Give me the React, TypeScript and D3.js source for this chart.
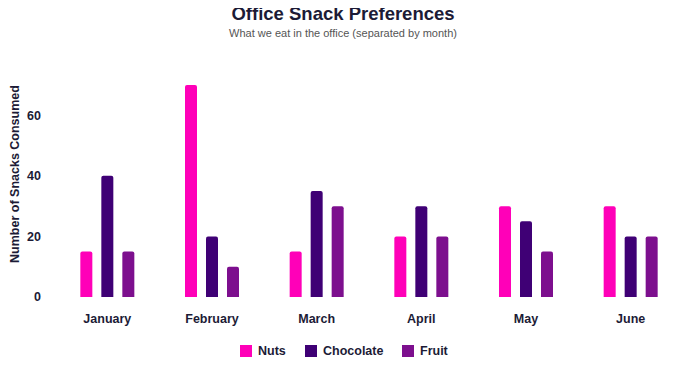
import React from 'react';
import * as d3 from 'd3';

const months = ['January', 'February', 'March', 'April', 'May', 'June'];
const seriesNames = ['Nuts', 'Chocolate', 'Fruit'];
const nuts = [15, 70, 15, 20, 30, 30];
const chocolate = [40, 20, 35, 30, 25, 20];
const fruit = [15, 10, 30, 20, 15, 20];
const yTicks = [0, 20, 40, 60];
const colors = ['#ff00b8', '#3f0075', '#7d0f8e'];

const W = 690;
const H = 372;
const margin = { top: 85, right: 7, bottom: 75, left: 55 };
const textColor = '#1c1b36';
const font = '"Liberation Sans", Arial, sans-serif';

function topRounded(x: number, y: number, w: number, h: number, r: number) {
  const rr = Math.min(r, h, w / 2);
  return `M${x},${y + h}V${y + rr}Q${x},${y} ${x + rr},${y}H${x + w - rr}Q${x + w},${y} ${x + w},${y + rr}V${y + h}Z`;
}

export default function App() {
  const values = [nuts, chocolate, fruit];

  const x = d3.scaleBand<string>()
    .domain(months)
    .range([margin.left, W - margin.right]);
  const barW = 12;
  const gap = 21;
  const y = d3.scaleLinear()
    .domain([0, 70])
    .range([297, margin.top]);

  return (
    <svg width={W} height={H} style={{ display: 'block', margin: '-8px' }} fontFamily={font}>
      <rect width={W} height={H} fill="#fff" />
      <text x={W / 2 - 2} y={20} textAnchor="middle" fontSize={18.5} fontWeight="bold" fill={textColor}>
        Office Snack Preferences
      </text>
      <text x={W / 2 - 2} y={37} textAnchor="middle" fontSize={11} fill="#555">
        What we eat in the office (separated by month)
      </text>

      {yTicks.map(t => (
        <text key={t} x={41} y={y(t)} dy="0.35em" textAnchor="end" fontSize={12.5} fontWeight="bold" fill={textColor}>
          {t}
        </text>
      ))}
      <text
        transform={`translate(19,174) rotate(-90)`}
        textAnchor="middle"
        fontSize={12.5}
        fontWeight="bold"
        fill={textColor}
      >
        Number of Snacks Consumed
      </text>

      {months.map((m, i) => {
        const cx = (x(m) as number) + x.bandwidth() / 2;
        return (
          <g key={m}>
            {values.map((s, j) => {
              const bx = cx + (j - 1) * gap - barW / 2;
              const by = y(s[i]);
              return (
                <path key={j} d={topRounded(bx, by, barW, y(0) - by, 2)} fill={colors[j]} />
              );
            })}
            <text x={cx} y={323} textAnchor="middle" fontSize={12.5} fontWeight="bold" fill={textColor}>
              {m}
            </text>
          </g>
        );
      })}

      {seriesNames.map((n, j) => {
        const lx = [240, 305, 402][j];
        return (
          <g key={n}>
            <rect x={lx} y={345} width={12} height={12} fill={colors[j]} />
            <text x={lx + 18} y={351} dy="0.35em" fontSize={12.5} fontWeight="bold" fill={textColor}>
              {n}
            </text>
          </g>
        );
      })}
    </svg>
  );
}
